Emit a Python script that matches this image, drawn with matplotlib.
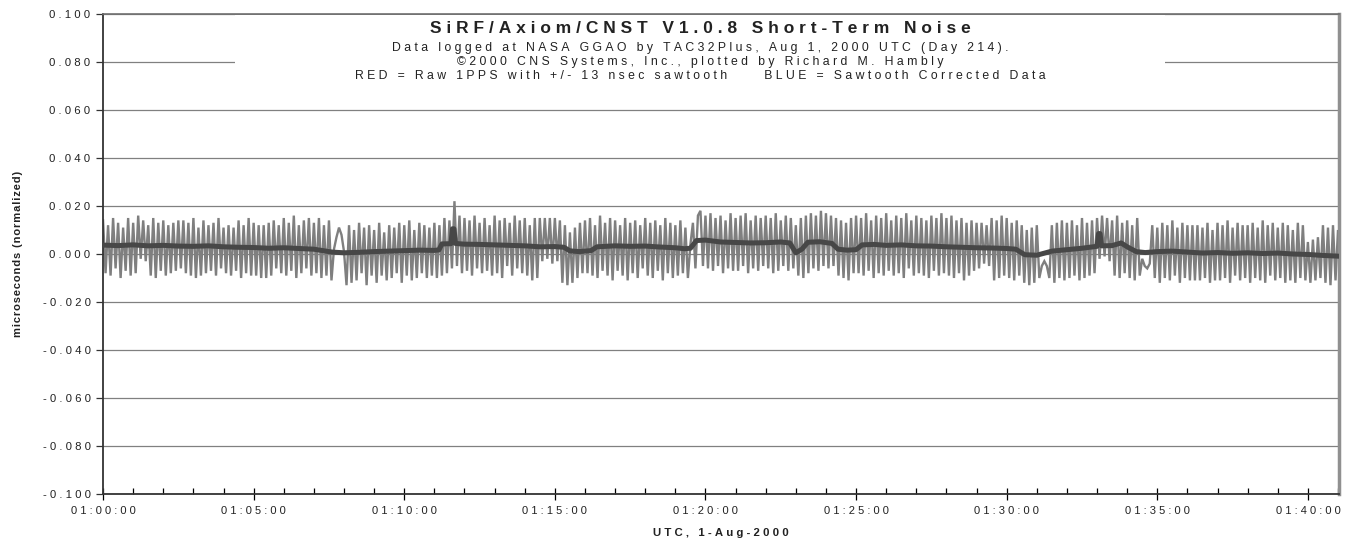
import numpy as np
import matplotlib
matplotlib.use("Agg")
import matplotlib.pyplot as plt
from matplotlib.patches import Rectangle
from matplotlib.ticker import FuncFormatter, MultipleLocator

plt.rcParams['font.family'] = ['Liberation Sans', 'DejaVu Sans']

# raw 1PPS offset (nsec), one reading every 5 s starting 01:00:00, 12 per minute
raw_ns = [
    14, -8, 12, -9, 15, -6, 13, -10, 11, -7, 15, -9,
    13, -8, 16, -2, 14, -3, 12, -9, 15, -10, 13, -7,
    14, -9, 12, -8, 13, -7, 14, -6, 14, -8, 13, -9,
    15, -10, 11, -9, 14, -8, 12, -7, 13, -9, 15, -6,
    11, -8, 12, -9, 11, -7, 14, -10, 12, -8, 15, -9,
    13, -9, 12, -10, 12, -10, 13, -9, 14, -6, 12, -8,
    15, -9, 13, -7, 16, -10, 12, -8, 14, -6, 15, -9,
    13, -8, 15, -10, 12, -9, 14, -11, 2, 7, 11, 8,
    1, -13, 12, -12, 10, -11, 13, -8, 11, -13, 12, -9,
    10, -12, 13, -9, 9, -11, 12, -10, 11, -8, 13, -12,
    12, -9, 14, -11, 10, -10, 13, -8, 12, -10, 11, -9,
    13, -10, 12, -9, 15, -8, 14, -6, 22, -5, 16, -8,
    15, -7, 14, -9, 16, -6, 13, -8, 15, -7, 12, -9,
    16, -8, 14, -10, 15, -5, 13, -9, 16, -6, 14, -8,
    15, -9, 12, -11, 15, -10, 15, -3, 15, -2, 15, -4,
    15, -3, 14, -12, 12, -13, 9, -12, 11, -10, 13, -8,
    14, -8, 15, -9, 12, -10, 16, -7, 13, -9, 15, -11,
    14, -7, 12, -9, 15, -11, 13, -8, 14, -10, 12, -6,
    15, -9, 13, -10, 14, -7, 12, -11, 15, -8, 13, -10,
    12, -9, 14, -8, 11, -10, 4, 13, -6, 16, 18, -5,
    16, -6, 17, -7, 15, -5, 16, -8, 14, -6, 17, -7,
    15, -7, 16, -5, 17, -8, 14, -6, 16, -7, 15, -5,
    16, -6, 15, -8, 17, -7, 14, -5, 16, -7, 15, -6,
    12, -9, 15, -10, 16, -8, 17, -6, 16, -7, 18, -5,
    17, -6, 16, -5, 15, -9, 14, -10, 13, -11, 15, -8,
    16, -8, 15, -9, 17, -7, 14, -10, 16, -8, 15, -9,
    17, -7, 14, -9, 16, -8, 15, -10, 17, -6, 14, -9,
    16, -8, 15, -9, 14, -10, 16, -7, 15, -9, 17, -8,
    15, -9, 16, -10, 14, -8, 15, -11, 13, -9, 14, -7,
    13, -6, 13, -4, 12, -5, 15, -11, 14, -10, 16, -9,
    15, -10, 13, -11, 14, -9, 12, -12, 10, -13, 11, -12,
    12, -10, -5, -3, -5, -10, 12, -12, 13, -10, 14, -11,
    13, -10, 14, -9, 12, -11, 15, -10, 13, -9, 14, -8,
    15, -2, 16, -1, 15, -3, 14, -9, 16, -10, 13, -8,
    14, -10, 12, -11, 15, -9, -2, -5, -6, -4, 12, -10,
    11, -12, 13, -10, 12, -11, 14, -9, 11, -12, 13, -10,
    12, -11, 12, -11, 12, -11, 11, -10, 13, -12, 10, -11,
    13, -11, 12, -10, 14, -12, 11, -9, 13, -11, 12, -10,
    12, -12, 13, -10, 11, -11, 14, -12, 12, -9, 13, -11,
    11, -10, 13, -12, 12, -11, 10, -12, 13, -10, 12, -11,
    5, -12, 6, -11, 7, -10, 12, -12, 11, -13, 12, -11,
    10, -12, 11, -10, 9, -12,
]
RAW_STEP_SEC = 5

# sawtooth corrected data (nsec) at minutes past 01:00:00
corr_min = [0, 0.5, 1, 1.5, 2, 2.5, 3, 3.5, 4, 4.5, 5, 5.5, 6, 6.5, 7, 7.3, 7.6,
            8, 8.5, 9, 9.5, 10, 10.5, 11, 11.15, 11.25, 11.55, 11.6, 11.65, 11.7,
            12, 12.5, 13, 13.5, 14, 14.5, 15, 15.3, 15.5, 15.8, 16.2, 16.4, 17,
            17.5, 18, 18.5, 19, 19.3, 19.5, 19.7, 20, 20.5, 21, 21.5, 22, 22.5,
            22.8, 23.0, 23.2, 23.4, 23.8, 24.2, 24.4, 24.7, 25, 25.2, 25.6, 26,
            26.5, 27, 27.5, 28, 28.5, 29, 29.5, 30, 30.3, 30.6, 31, 31.5, 32,
            32.5, 33, 33.05, 33.1, 33.15, 33.5, 33.8, 34.0, 34.3, 34.6, 35, 35.5,
            36, 36.5, 37, 37.5, 38, 38.5, 39, 39.5, 40, 40.5, 41, 41.4]
corr_ns = [3.7, 3.5, 3.8, 3.4, 3.6, 3.3, 3.2, 3.4, 3.0, 2.8, 2.7, 2.4, 2.6, 2.3, 2.0, 1.4, 0.8,
           0.5, 0.7, 1.0, 1.2, 1.4, 1.6, 1.5, 1.7, 4.2, 4.3, 10.5, 10.5, 4.4,
           4.1, 4.0, 3.8, 3.6, 3.4, 3.0, 3.1, 2.8, 1.3, 1.0, 1.4, 3.0, 3.4,
           3.2, 3.3, 2.9, 2.6, 2.2, 2.4, 5.6, 5.8, 5.0, 4.8, 4.6, 4.7, 5.0,
           4.6, 0.5, 2.0, 4.9, 5.1, 4.4, 2.0, 1.6, 1.8, 3.8, 4.0, 3.6,
           3.8, 3.4, 3.3, 3.0, 2.8, 2.6, 2.5, 2.3, 2.0, -0.3, -0.5, 1.2, 1.8,
           2.4, 3.2, 8.5, 8.5, 3.4, 3.5, 4.6, 3.0, 1.0, 0.6, 1.0, 1.2,
           0.8, 0.4, 0.6, 0.3, 0.5, 0.2, 0.4, 0.0, -0.2, -0.6, -0.9, -1.1]

y_ticks = [-0.100, -0.080, -0.060, -0.040, -0.020, 0.000, 0.020, 0.040, 0.060, 0.080, 0.100]

title = "SiRF/Axiom/CNST V1.0.8 Short-Term Noise"
sub_lines = [
    "Data logged at NASA GGAO by TAC32Plus, Aug 1, 2000 UTC (Day 214).",
    "\u00a92000 CNS Systems, Inc., plotted by Richard M. Hambly",
    "RED = Raw 1PPS with +/- 13 nsec sawtooth     BLUE = Sawtooth Corrected Data",
]

PUNCT_SP = '\u2008'
HAIR_SP = '\u200a'


def spaced(s, sp=PUNCT_SP):
    """ Mimic the wide letter spacing of the original """
    return sp.join(s)


raw_t = np.arange(len(raw_ns)) * RAW_STEP_SEC / 60.0
raw_us = np.array(raw_ns) / 1000.0
corr_us = np.array(corr_ns) / 1000.0

fig = plt.figure(figsize=(13.47, 5.41), dpi=100)
ax = fig.add_axes([0.0765, 0.0869, 0.9175, 0.8872])

ax.plot(raw_t, raw_us, color='#7f7f7f', lw=1.7, zorder=2, solid_joinstyle='miter')
ax.plot(corr_min, corr_us, color='#474747', lw=3.6, zorder=3, solid_joinstyle='round')

ax.set_xlim(0, 41.03)
ax.set_ylim(-0.1, 0.1)
ax.set_yticks(y_ticks)
ax.yaxis.set_major_formatter(FuncFormatter(lambda v, p: spaced('%.3f' % v)))
ax.xaxis.set_major_locator(MultipleLocator(5))
ax.xaxis.set_minor_locator(MultipleLocator(1))
ax.xaxis.set_major_formatter(FuncFormatter(lambda v, p: spaced('01:%02d:00' % int(round(v)))))

ax.grid(axis='y', color='#808080', lw=0.9, zorder=0.5)
ax.set_axisbelow(True)
ax.tick_params(axis='y', direction='out', length=5, width=0.9, labelsize=8.2, pad=4,
               color='#333333', labelcolor='#222222')
ax.tick_params(axis='x', which='major', direction='inout', length=8, width=0.9,
               labelsize=8, pad=5, labelcolor='#222222')
ax.tick_params(axis='x', which='minor', direction='in', length=4, width=0.9)

for side in ['left', 'bottom']:
    ax.spines[side].set_color('#333333')
    ax.spines[side].set_linewidth(1.3)
ax.spines['top'].set_color('#707070')
ax.spines['top'].set_linewidth(1.2)
ax.spines['right'].set_color('#909090')
ax.spines['right'].set_linewidth(2.5)

# title box sits in the plot area, hiding part of the 0.080 gridline
ax.add_patch(Rectangle((0.107, 0.825), 0.752, 0.172, transform=ax.transAxes,
                       facecolor='white', edgecolor='none', zorder=1))
cx = 0.483
ax.text(cx, 0.970, spaced(title), transform=ax.transAxes, ha='center', va='center',
        fontsize=12.5, fontweight='bold', color='#222222', zorder=4)
for i, line in enumerate(sub_lines):
    ax.text(cx, 0.929 - i * 0.0295, spaced(line), transform=ax.transAxes, ha='center',
            va='center', fontsize=8.8, color='#222222', zorder=4)

ax.set_ylabel(spaced('microseconds (normalized)', HAIR_SP), fontsize=8, fontweight='bold',
              labelpad=14, color='#222222')
ax.set_xlabel(spaced('UTC, 1-Aug-2000'), fontsize=8.2, fontweight='bold', labelpad=8,
              color='#222222')

fig.savefig('out.png', dpi=100)
